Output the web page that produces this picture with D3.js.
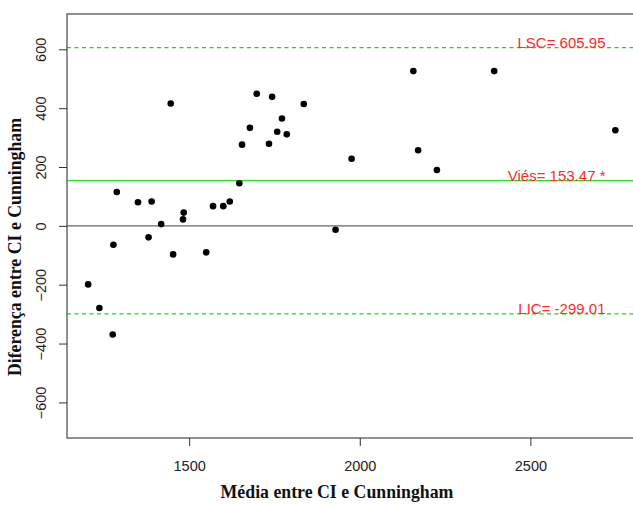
<!DOCTYPE html>
<html>
<head>
<meta charset="utf-8">
<script src="https://cdn.jsdelivr.net/npm/d3@7"></script>
<style>
  html, body { margin: 0; padding: 0; background: #fff; }
  svg { display: block; }
</style>
</head>
<body>
<svg id="chart" width="633" height="505"></svg>
<script>
// Bland-Altman data: mean (x) and difference (y) between CI and Cunningham
const meanVals = [2157, 2394, 1698, 1743, 1446, 1836, 1772, 1678, 2749, 1758, 1786, 1655,
  1734, 2171, 1976, 2226, 1647, 1288, 1350, 1390, 1619, 1570, 1600, 1484, 1482, 1418,
  1929, 1381, 1278, 1550, 1453, 1204, 1237, 1276];
const diffVals = [526, 526, 449, 439, 416, 414, 365, 333, 325, 320, 311, 276,
  279, 257, 228, 190, 145, 115, 80, 83, 83, 67, 67, 45, 22, 6,
  -13, -39, -64, -90, -97, -199, -279, -369];
const xTicks = [1500, 2000, 2500];
const yTicks = [-600, -400, -200, 0, 200, 400, 600];
const refLines = [
  { name: "LSC", value: 605.95, label: "LSC= 605.95", dashed: true },
  { name: "Viés", value: 153.47, label: "Viés= 153.47 *", dashed: false },
  { name: "LIC", value: -299.01, label: "LIC= -299.01", dashed: true }
];
const xTitle = "Média entre CI e Cunningham";
const yTitle = "Diferença entre CI e Cunningham";

const svg = d3.select("#chart");
const plot = { left: 67, right: 636.5, top: 14, bottom: 438 };

const x = d3.scaleLinear().domain([1142, 2811]).range([plot.left, plot.right]);
const y = d3.scaleLinear().domain([-721, 720]).range([plot.bottom, plot.top]);

const axisColor = "#555";
const green = "#22e622";

// zero line
svg.append("line")
  .attr("x1", plot.left).attr("x2", plot.right)
  .attr("y1", y(0)).attr("y2", y(0))
  .attr("stroke", "#666").attr("stroke-width", 1.3);

// reference lines
refLines.forEach(r => {
  svg.append("line")
    .attr("x1", plot.left).attr("x2", plot.right)
    .attr("y1", y(r.value)).attr("y2", y(r.value))
    .attr("stroke", r.dashed ? "#1fd21f" : green)
    .attr("stroke-width", r.dashed ? 1.2 : 1.3)
    .attr("stroke-dasharray", r.dashed ? "4,3.5" : null);
});

// points
svg.append("g").selectAll("circle")
  .data(meanVals.map((m, i) => [m, diffVals[i]]))
  .join("circle")
  .attr("cx", d => x(d[0]))
  .attr("cy", d => y(d[1]))
  .attr("r", 3.3)
  .attr("fill", "#000");

// labels
refLines.forEach(r => {
  svg.append("text")
    .attr("x", 605.5)
    .attr("y", y(r.value) + 0.5)
    .attr("text-anchor", "end")
    .attr("font-family", "Liberation Sans, Arial, sans-serif")
    .attr("font-size", "15px")
    .attr("fill", "#ff2a2a")
    .text(r.label);
});

// box
svg.append("rect")
  .attr("x", plot.left).attr("y", plot.top)
  .attr("width", plot.right - plot.left).attr("height", plot.bottom - plot.top)
  .attr("fill", "none").attr("stroke", axisColor).attr("stroke-width", 1.3);

// x axis
const xAxis = d3.axisBottom(x).tickValues(xTicks).tickSize(8).tickFormat(d3.format("d"));
const gx = svg.append("g").attr("transform", `translate(0,${plot.bottom})`).call(xAxis);
gx.select(".domain").remove();
gx.selectAll(".tick line").attr("stroke", "#333");
gx.selectAll(".tick text")
  .attr("font-family", "Liberation Sans, Arial, sans-serif")
  .attr("font-size", "14.5px").attr("fill", "#222")
  .attr("dy", null).attr("y", 33);

// y axis
const yAxis = d3.axisLeft(y).tickValues(yTicks).tickSize(8).tickFormat(d3.format("d"));
const gy = svg.append("g").attr("transform", `translate(${plot.left},0)`).call(yAxis);
gy.select(".domain").remove();
gy.selectAll(".tick line").attr("stroke", "#333");
gy.selectAll(".tick text")
  .attr("font-family", "Liberation Sans, Arial, sans-serif")
  .attr("font-size", "14.5px").attr("fill", "#222")
  .attr("x", null).attr("dy", null)
  .attr("text-anchor", "middle")
  .attr("transform", "translate(-21.5,0) rotate(-90)");

// titles
svg.append("text")
  .attr("x", 337).attr("y", 498)
  .attr("text-anchor", "middle")
  .attr("font-family", "Liberation Serif, Times New Roman, serif")
  .attr("font-weight", "bold").attr("font-size", "17.8px")
  .attr("fill", "#111")
  .text(xTitle);

svg.append("text")
  .attr("transform", "translate(21,247) rotate(-90)")
  .attr("text-anchor", "middle")
  .attr("font-family", "Liberation Serif, Times New Roman, serif")
  .attr("font-weight", "bold").attr("font-size", "17.8px")
  .attr("fill", "#111")
  .text(yTitle);
</script>
</body>
</html>
